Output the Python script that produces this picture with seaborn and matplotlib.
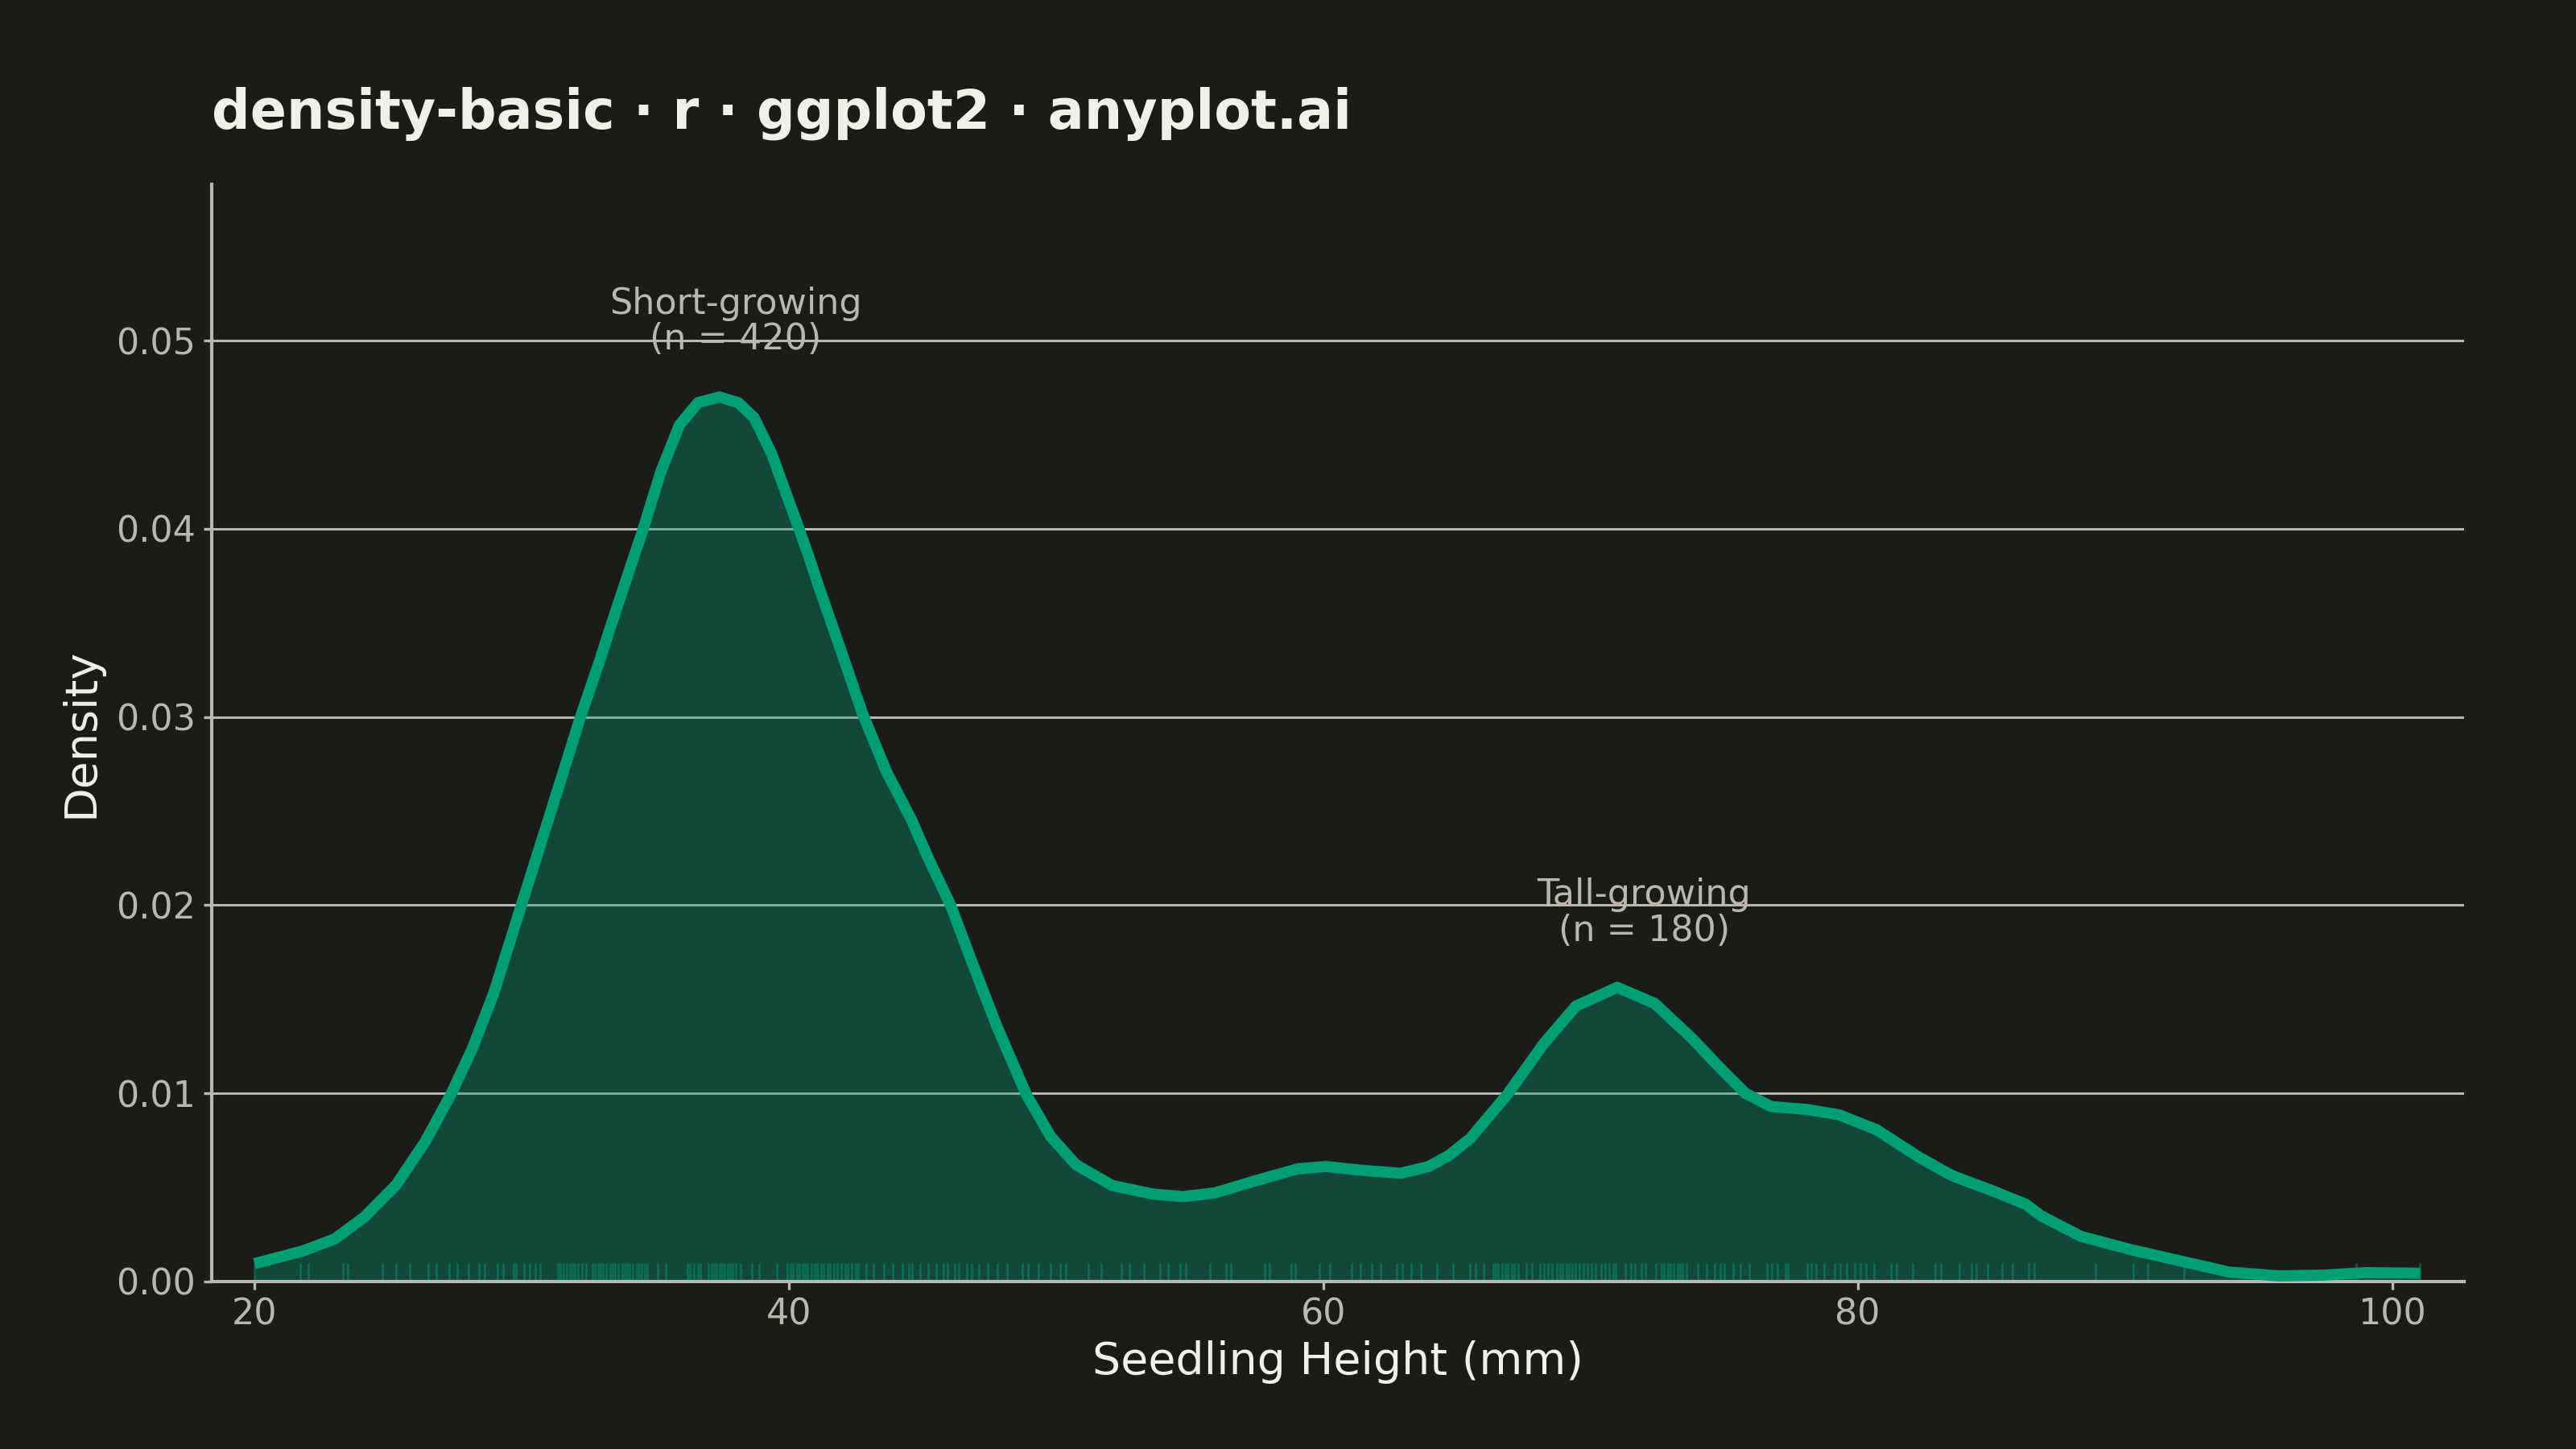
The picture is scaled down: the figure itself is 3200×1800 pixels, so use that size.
import numpy as np
import pandas as pd
import matplotlib
matplotlib.use("Agg")
import matplotlib.pyplot as plt
import seaborn as sns

# density curve (seedling height in mm, density)
height_mm = [20.0, 21.8, 23.0, 24.1, 25.3, 26.4, 27.35, 28.15, 28.95, 29.9,
             31.05, 32.2, 32.9, 33.35, 34.1, 34.55, 35.2, 35.9, 36.6, 37.4,
             38.1, 38.7, 39.35, 40.3, 40.75, 41.1, 42.15, 42.75, 43.65, 44.6,
             45.2, 46.05, 46.9, 47.8, 48.9, 49.8, 50.75, 52.1, 53.65, 54.75,
             55.95, 57.5, 59.05, 60.1, 61.35, 62.9, 63.95, 64.7, 65.5, 66.9,
             68.25, 69.45, 71.0, 72.4, 73.8, 74.85, 75.8, 76.75, 78.1, 79.3,
             80.7, 82.3, 83.5, 84.1, 84.9, 86.3, 86.85, 88.35, 90.2, 92.05,
             93.9, 95.75, 97.45, 99.0, 101.05]
density = [0.00095, 0.00162, 0.00226, 0.00341, 0.00513, 0.00746, 0.00994, 0.01237, 0.0153, 0.0196,
           0.02478, 0.0300, 0.0329, 0.0349, 0.0381, 0.0400, 0.0430, 0.0455, 0.0467, 0.0470,
           0.0467, 0.0459, 0.0440, 0.0403, 0.0385, 0.0370, 0.0327, 0.0302, 0.0271, 0.0245,
           0.02255, 0.0200, 0.0168, 0.0135, 0.0099, 0.0077, 0.0062, 0.0051, 0.00464, 0.00451,
           0.00471, 0.00537, 0.00599, 0.00611, 0.00592, 0.00575, 0.00611, 0.0067, 0.0076, 0.00996,
           0.01264, 0.01463, 0.01563, 0.01478, 0.01292, 0.01135, 0.0100, 0.0093, 0.00914, 0.00886,
           0.00807, 0.0066, 0.00565, 0.00532, 0.0049, 0.0041, 0.0035, 0.0024, 0.0017, 0.0011,
           0.0005, 0.0003, 0.00034, 0.00047, 0.00044]

# individual seedlings shown in the rug
rug_heights = [
    20.0, 21.7, 22.0, 23.3, 23.5, 24.8, 25.3, 25.8, 26.5, 26.8, 27.3, 27.6, 28.0,
    28.4, 28.6, 29.1, 29.3, 29.7, 29.8, 30.1, 30.3, 30.5, 30.7,
    31.35, 31.45, 31.55, 31.7, 31.8, 31.9, 32.0, 32.1, 32.25, 32.4,
    32.65, 32.75, 32.85, 32.95, 33.05, 33.15, 33.3, 33.4, 33.5, 33.6, 33.75,
    33.85, 33.95, 34.05, 34.15, 34.3, 34.4, 34.5, 34.6, 34.7, 35.1, 35.4,
    36.2, 36.3, 36.45, 36.6, 36.7, 37.0, 37.1, 37.2, 37.3, 37.4, 37.5, 37.6,
    37.7, 37.8, 37.9, 38.0, 38.2, 38.6, 38.9, 39.55,
    39.95, 40.05, 40.15, 40.3, 40.4, 40.5, 40.6, 40.7, 40.85, 40.95, 41.05,
    41.2, 41.3, 41.45, 41.55, 41.7, 41.8, 41.95, 42.1, 42.2, 42.35, 42.5, 42.6,
    42.9, 43.15, 43.55, 43.9, 44.25, 44.5, 44.6, 44.9, 45.2, 45.5, 45.8, 45.95,
    46.2, 46.35, 46.65, 46.85, 47.1, 47.45, 47.8, 48.15, 48.75, 48.95, 49.35,
    49.8, 50.15, 50.35, 51.2, 51.7, 52.45, 52.75, 53.3, 53.9, 54.2, 54.65,
    54.85, 55.75, 56.35, 56.55, 57.8, 58.0, 58.8, 58.95, 59.85, 60.25, 61.05,
    61.4, 61.8, 62.15, 62.75, 62.95, 63.3, 63.65, 64.25, 64.85, 65.5, 65.7, 66.0,
    66.35, 66.45, 66.55, 66.7, 66.8, 66.9, 67.05, 67.15, 67.3, 67.6, 67.8,
    68.1, 68.25, 68.4, 68.55, 68.75, 68.85, 68.95, 69.1, 69.2, 69.3, 69.45,
    69.6, 69.75, 69.9, 70.05, 70.2, 70.4, 70.55, 70.7, 70.85, 70.95, 71.3,
    71.5, 71.65, 71.9, 72.05, 72.45, 72.65, 72.75, 72.9, 73.0, 73.1, 73.25,
    73.35, 73.45, 73.6, 74.0, 74.35, 74.65, 74.85, 75.0, 75.35, 75.6, 75.95,
    76.6, 76.8, 77.0, 77.3, 77.4, 78.1, 78.25, 78.45, 78.75, 79.15, 79.35,
    79.6, 79.9, 80.1, 80.3, 80.6, 81.25, 81.45, 82.05, 82.9, 83.1, 83.8,
    84.25, 84.45, 84.85, 85.4, 85.8, 86.4, 86.6, 88.9, 90.3, 90.85, 92.2,
    98.65, 101.05,
]

annot_labels = ["Short-growing\n(n = 420)", "Tall-growing\n(n = 180)"]
annot_x = [38.0, 72.0]
annot_y = [0.0510, 0.0196]

x_ticks = [20, 40, 60, 80, 100]
y_ticks = [0.00, 0.01, 0.02, 0.03, 0.04, 0.05]

BG = "#1b1b18"
INK = "#f0efe8"
MUTED = "#b9b7ae"
GREEN = "#009e73"

sns.set_theme(style="white", rc={
    "figure.facecolor": BG,
    "axes.facecolor": BG,
    "savefig.facecolor": BG,
})
plt.rcParams["font.family"] = ["DejaVu Sans"]

fig = plt.figure(figsize=(16, 9), dpi=200)
ax = fig.add_axes([0.0822, 0.1156, 0.8744, 0.7572])

df = pd.DataFrame({"height": height_mm, "density": density})

# filled area + outline
ax.fill_between(df["height"], df["density"], 0, color=GREEN, alpha=0.35, lw=0, zorder=2)
sns.lineplot(data=df, x="height", y="density", color=GREEN, lw=5.0, ax=ax,
             zorder=3, solid_capstyle="butt", solid_joinstyle="round")
sns.rugplot(x=rug_heights, height=0.0167, color=GREEN, alpha=0.42, lw=1.3, ax=ax, zorder=2.5)

for lab, xx, yy in zip(annot_labels, annot_x, annot_y):
    ax.text(xx, yy, lab, ha="center", va="center", fontsize=16, color=MUTED,
            linespacing=1.05, zorder=4)

ax.set_xlim(18.4, 102.7)
ax.set_ylim(0, 0.0583)
ax.set_xticks(x_ticks)
ax.set_xticklabels([str(t) for t in x_ticks])
ax.set_yticks(y_ticks)
ax.set_yticklabels([f"{t:.2f}" for t in y_ticks])

ax.set_axisbelow(True)
ax.yaxis.grid(True, color=MUTED, lw=1.1)
ax.xaxis.grid(False)

for side in ["top", "right"]:
    ax.spines[side].set_visible(False)
for side in ["left", "bottom"]:
    ax.spines[side].set_color(MUTED)
    ax.spines[side].set_linewidth(1.5)

ax.tick_params(axis="both", color=MUTED, labelcolor=MUTED, labelsize=16,
               length=3.6, width=1.2, pad=3.6, bottom=True, left=True)

ax.set_xlabel("Seedling Height (mm)", fontsize=20, color=INK)
ax.set_ylabel("Density", fontsize=20, color=INK)
ax.xaxis.set_label_coords(0.5, -0.0536)
ax.yaxis.set_label_coords(-0.0486, 0.5)

fig.text(0.0822, 1 - 160 / 1800, "density-basic · r · ggplot2 · anyplot.ai",
         fontsize=24, fontweight="bold", color=INK, ha="left", va="baseline")

fig.savefig("out.png", dpi=200, facecolor=BG)
